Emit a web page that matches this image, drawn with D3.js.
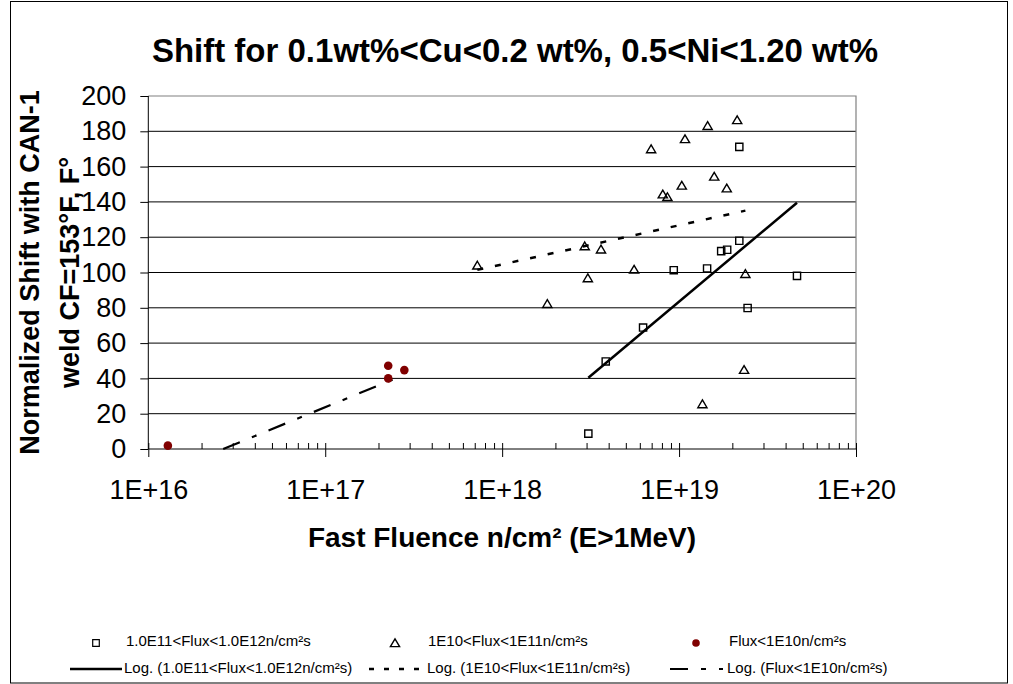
<!DOCTYPE html>
<html><head><meta charset="utf-8">
<script src="https://cdn.jsdelivr.net/npm/d3@7"></script>
<style>
body{margin:0;background:#fff}
svg{display:block}
text{font-family:"Liberation Sans", Arial, sans-serif;fill:#000}
</style>
</head><body>
<svg id="chart" width="1013" height="684"></svg>
<script>
// ---------- data ----------
const chartTitle = "Shift for 0.1wt%<Cu<0.2 wt%, 0.5<Ni<1.20 wt%";
const xAxisTitle = "Fast Fluence n/cm² (E>1MeV)";
const yAxisTitle = ["Normalized Shift with CAN-1", "weld CF=153°F, F°"];
const xTickValues = [1e16, 1e17, 1e18, 1e19, 1e20];
const xTickLabels = ["1E+16", "1E+17", "1E+18", "1E+19", "1E+20"];
const yTickValues = [0, 20, 40, 60, 80, 100, 120, 140, 160, 180, 200];

const seriesNames = ["1.0E11<Flux<1.0E12n/cm²s", "1E10<Flux<1E11n/cm²s", "Flux<1E10n/cm²s"];
const trendNames = ["Log. (1.0E11<Flux<1.0E12n/cm²s)", "Log. (1E10<Flux<1E11n/cm²s)", "Log. (Flux<1E10n/cm²s)"];

// series 1: squares
const squareX = [3.07e18, 3.85e18, 6.26e18, 9.33e18, 1.44e19, 1.73e19, 1.87e19, 2.19e19, 2.19e19, 2.44e19, 4.64e19];
const squareY = [8.7, 49.6, 68.8, 101.3, 102.3, 112.1, 112.9, 118.0, 171.2, 79.9, 98.1];
// series 2: triangles
const triX = [7.24e17, 1.80e18, 2.93e18, 3.05e18, 3.62e18, 5.57e18, 6.95e18, 8.09e18, 8.59e18, 1.036e19, 1.08e19, 1.355e19, 1.45e19, 1.58e19, 1.86e19, 2.13e19, 2.33e19, 2.37e19];
const triY = [104.0, 82.2, 114.9, 96.8, 113.1, 101.7, 169.9, 144.3, 142.8, 149.3, 175.6, 25.4, 183.1, 154.4, 147.7, 186.4, 44.9, 99.2];
// series 3: circles
const circX = [1.29e16, 2.27e17, 2.27e17, 2.80e17];
const circY = [1.9, 47.2, 40.0, 44.7];
// trendline of series 3 (part of it lies below the axis)
const circTrendX = [2.65e16, 2.8e17];
const circTrendY = [0, 42.0];

// ---------- layout ----------
const svg = d3.select("#chart");
const L = 148.3, R = 856, T = 96, B = 449;
const x = d3.scaleLog().domain([1e16, 1e20]).range([L, R]);
const y = d3.scaleLinear().domain([0, 200]).range([B, T]);

// outer frame
svg.append("rect").attr("x", 10.5).attr("y", 1.5).attr("width", 997).attr("height", 681.5)
  .attr("fill", "none").attr("stroke", "#000").attr("stroke-width", 1);

// title
svg.append("text").attr("x", 515).attr("y", 62).attr("text-anchor", "middle")
  .attr("font-size", 33).attr("font-weight", "bold").text(chartTitle);

// gridlines
svg.append("g").selectAll("line").data(yTickValues.filter(v => v > 0 && v < 200)).join("line")
  .attr("x1", L).attr("x2", R).attr("y1", d => y(d)).attr("y2", d => y(d))
  .attr("stroke", "#000").attr("stroke-width", 1);
// plot border top/right
svg.append("path").attr("d", `M${L},${y(200)}H${R}V${B}`).attr("fill", "none")
  .attr("stroke", "#808080").attr("stroke-width", 1.2);

// y axis
const yAxis = d3.axisLeft(y).tickValues(yTickValues).tickSize(8).tickPadding(14);
const gy = svg.append("g").attr("transform", `translate(${L},0)`).call(yAxis);
gy.select(".domain").remove();
gy.selectAll(".tick line").attr("stroke", "#000");
gy.selectAll(".tick text").attr("font-size", 27).attr("font-family", "Liberation Sans, Arial, sans-serif");

// x axis major ticks and labels
const xAxis = d3.axisBottom(x).tickValues(xTickValues).tickSize(8).tickPadding(23)
  .tickFormat((d, i) => xTickLabels[i]);
const gx = svg.append("g").attr("transform", `translate(0,${B})`).call(xAxis);
gx.select(".domain").remove();
gx.selectAll(".tick line").attr("stroke", "#000");
gx.selectAll(".tick text").attr("font-size", 27).attr("font-family", "Liberation Sans, Arial, sans-serif");

// x axis inside ticks (minor + major)
const minorTicks = [];
for (let e = 16; e < 20; e++) for (let m = 1; m <= 9; m++) minorTicks.push(m * Math.pow(10, e));
minorTicks.push(1e20);
const gxm = svg.append("g").attr("transform", `translate(0,${B})`)
  .call(d3.axisTop(x).tickValues(minorTicks).tickSize(6).tickFormat(""));
gxm.select(".domain").remove();
gxm.selectAll(".tick line").attr("stroke", "#000");

// axis lines
svg.append("line").attr("x1", L).attr("x2", L).attr("y1", T).attr("y2", B).attr("stroke", "#000");
svg.append("line").attr("x1", L).attr("x2", R).attr("y1", B).attr("y2", B).attr("stroke", "#000");

// axis titles
svg.append("text").attr("x", 502).attr("y", 547).attr("text-anchor", "middle")
  .attr("font-size", 28).attr("font-weight", "bold").text(xAxisTitle);
const ytBase = [39, 79];
yAxisTitle.forEach((t, i) => {
  svg.append("text").attr("transform", `translate(${ytBase[i]},${(T + B) / 2}) rotate(-90)`)
    .attr("text-anchor", "middle").attr("font-size", 27).attr("font-weight", "bold").text(t);
});

// ---------- trendlines ----------
function logFit(xs, ys) {
  const lx = xs.map(v => Math.log(v));
  const mx = d3.mean(lx), my = d3.mean(ys);
  let sxy = 0, sxx = 0;
  lx.forEach((v, i) => { sxy += (v - mx) * (ys[i] - my); sxx += (v - mx) * (v - mx); });
  const a = sxy / sxx, b = my - a * mx;
  return v => a * Math.log(v) + b;
}
const line = d3.line().x(d => x(d[0])).y(d => y(d[1]));
const fSq = logFit(squareX, squareY);
const sqExt = d3.extent(squareX);
svg.append("path").attr("d", line(sqExt.map(v => [v, fSq(v)])))
  .attr("fill", "none").attr("stroke", "#000").attr("stroke-width", 2.5);

const fTri = logFit(triX, triY);
const triExt = d3.extent(triX);
svg.append("path").attr("d", line(triExt.map(v => [v, fTri(v)])))
  .attr("fill", "none").attr("stroke", "#000").attr("stroke-width", 2.5).attr("stroke-dasharray", "6,12");

svg.append("path").attr("d", line(circTrendX.map((v, i) => [v, circTrendY[i]])))
  .attr("fill", "none").attr("stroke", "#000").attr("stroke-width", 2.2).attr("stroke-dasharray", "18,13,5,13");

// ---------- markers ----------
function squarePath(cx, cy, s) { return `M${cx - s},${cy - s}H${cx + s}V${cy + s}H${cx - s}Z`; }
function triPath(cx, cy) { return `M${cx},${cy - 4.2}L${cx + 4.6},${cy + 3.6}L${cx - 4.6},${cy + 3.6}Z`; }

svg.append("g").selectAll("path").data(squareX.map((v, i) => [v, squareY[i]])).join("path")
  .attr("d", d => squarePath(x(d[0]), y(d[1]), 3.6))
  .attr("fill", "none").attr("stroke", "#000").attr("stroke-width", 1.4);
svg.append("g").selectAll("path").data(triX.map((v, i) => [v, triY[i]])).join("path")
  .attr("d", d => triPath(x(d[0]), y(d[1])))
  .attr("fill", "none").attr("stroke", "#000").attr("stroke-width", 1.4);
svg.append("g").selectAll("circle").data(circX.map((v, i) => [v, circY[i]])).join("circle")
  .attr("cx", d => x(d[0])).attr("cy", d => y(d[1])).attr("r", 4.3).attr("fill", "#800000");

// ---------- legend ----------
const legMarkX = [96, 395, 696];
const legTextX = [126, 428, 729];
const legRow1 = 643, legRow1Text = 646;
const legLineX = [[70, 122], [369, 422], [670, 723]];
const legTrendText = [124, 427, 727];
const legRow2 = 669, legRow2Text = 673;

svg.append("path").attr("d", squarePath(legMarkX[0], legRow1, 3.3)).attr("fill", "none").attr("stroke", "#000").attr("stroke-width", 1.2);
svg.append("path").attr("d", triPath(legMarkX[1], legRow1)).attr("fill", "none").attr("stroke", "#000").attr("stroke-width", 1.4);
svg.append("circle").attr("cx", legMarkX[2]).attr("cy", legRow1).attr("r", 3.8).attr("fill", "#800000");
seriesNames.forEach((t, i) => {
  svg.append("text").attr("x", legTextX[i]).attr("y", legRow1Text).attr("font-size", 15).text(t);
});
const legDash = [null, "5,10", "18,13,5,13"];
const legW = [2.5, 2.5, 2.2];
trendNames.forEach((t, i) => {
  const l = svg.append("line").attr("x1", legLineX[i][0]).attr("x2", legLineX[i][1])
    .attr("y1", legRow2).attr("y2", legRow2).attr("stroke", "#000").attr("stroke-width", legW[i]);
  if (legDash[i]) l.attr("stroke-dasharray", legDash[i]);
  svg.append("text").attr("x", legTrendText[i]).attr("y", legRow2Text).attr("font-size", 15).text(t);
});
</script>
</body></html>
